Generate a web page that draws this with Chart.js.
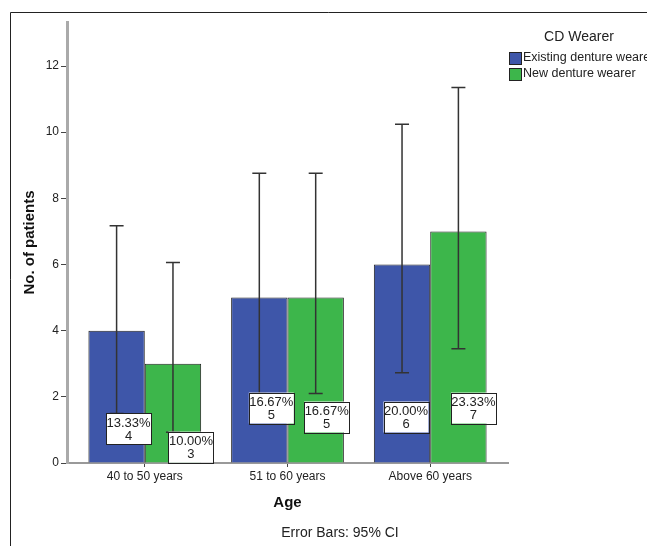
<!DOCTYPE html>
<html>
<head>
<meta charset="utf-8">
<script src="https://cdn.jsdelivr.net/npm/chart.js@4/dist/chart.umd.min.js"></script>
<style>
  html, body { margin: 0; padding: 0; background: #fff; }
  #wrap { width: 647px; height: 546px; position: relative; }
</style>
</head>
<body>
<div id="wrap"><canvas id="chart"></canvas></div>
<script>
// values
const ageGroups = ['40 to 50 years', '51 to 60 years', 'Above 60 years'];
const seriesNames = ['Existing denture wearer', 'New denture wearer'];
const existingCounts = [4, 5, 6];
const newCounts = [3, 5, 7];
const existingPercent = ['13.33%', '16.67%', '20.00%'];
const newPercent = ['10.00%', '16.67%', '23.33%'];
const existingCiLow = [1.5, 2.1, 2.73];
const existingCiHigh = [7.17, 8.76, 10.24];
const newCiLow = [0.93, 2.1, 3.45];
const newCiHigh = [6.06, 8.76, 11.35];
const yTicks = [0, 2, 4, 6, 8, 10, 12];

const FONT = '"Liberation Sans", Arial, sans-serif';
const colors = ['#3E56A9', '#3DB64B'];

// where SPSS dropped each value label (x shift from bar centre, y in axis units)
const labelSpots = [
  [{ dx: 12, y: 1.03 }, { dx: 12, y: 1.66 }, { dx: 4, y: 1.39 }],
  [{ dx: 18, y: 0.48 }, { dx: 11, y: 1.39 }, { dx: 15, y: 1.66 }]
];

const ciLow = [existingCiLow, newCiLow];
const ciHigh = [existingCiHigh, newCiHigh];
const percents = [existingPercent, newPercent];

const errorBars = {
  id: 'errorBars',
  afterDatasetsDraw(chart) {
    const ctx = chart.ctx;
    const y = chart.scales.y;
    ctx.save();
    ctx.strokeStyle = '#333';
    ctx.lineWidth = 1.5;
    chart.data.datasets.forEach((ds, di) => {
      chart.getDatasetMeta(di).data.forEach((bar, i) => {
        const x = bar.x;
        const top = y.getPixelForValue(ciHigh[di][i]);
        const bot = y.getPixelForValue(ciLow[di][i]);
        ctx.beginPath();
        ctx.moveTo(x, top); ctx.lineTo(x, bot);
        ctx.moveTo(x - 7, top); ctx.lineTo(x + 7, top);
        ctx.moveTo(x - 7, bot); ctx.lineTo(x + 7, bot);
        ctx.stroke();
      });
    });
    ctx.restore();
  }
};

const valueLabels = {
  id: 'valueLabels',
  afterDatasetsDraw(chart) {
    const ctx = chart.ctx;
    const y = chart.scales.y;
    ctx.save();
    ctx.font = '13px ' + FONT;
    ctx.textAlign = 'center';
    ctx.textBaseline = 'middle';
    chart.data.datasets.forEach((ds, di) => {
      chart.getDatasetMeta(di).data.forEach((bar, i) => {
        const spot = labelSpots[di][i];
        const cx = bar.x + spot.dx;
        const cy = y.getPixelForValue(spot.y);
        const w = 45, h = 31;
        ctx.fillStyle = '#fff';
        ctx.fillRect(cx - w / 2, cy - h / 2, w, h);
        ctx.strokeStyle = '#222';
        ctx.lineWidth = 1;
        ctx.strokeRect(Math.round(cx - w / 2) + 0.5, Math.round(cy - h / 2) + 0.5, w, h);
        ctx.fillStyle = '#222';
        ctx.fillText(percents[di][i], cx, cy - 6);
        ctx.fillText(String(ds.data[i]), cx, cy + 7);
      });
    });
    ctx.restore();
  }
};

const decorations = {
  id: 'decorations',
  afterDraw(chart) {
    const ctx = chart.ctx;
    ctx.save();
    // outer frame
    ctx.strokeStyle = '#222';
    ctx.lineWidth = 1;
    ctx.beginPath();
    ctx.moveTo(10.5, 546); ctx.lineTo(10.5, 12.5); ctx.lineTo(647, 12.5);
    ctx.stroke();
    // legend
    ctx.fillStyle = '#222';
    ctx.font = '14px ' + FONT;
    ctx.textAlign = 'center';
    ctx.textBaseline = 'middle';
    ctx.fillText('CD Wearer', 579, 37);
    ctx.font = '12.5px ' + FONT;
    ctx.textAlign = 'left';
    chart.data.datasets.forEach((ds, di) => {
      const cy = 58 + di * 16;
      ctx.fillStyle = ds.backgroundColor;
      ctx.fillRect(509, cy - 6, 12, 12);
      ctx.strokeStyle = '#222';
      ctx.strokeRect(509.5, cy - 5.5, 12, 12);
      ctx.fillStyle = '#222';
      ctx.fillText(ds.label, 523, cy);
    });
    // footnote
    ctx.font = '14px ' + FONT;
    ctx.textAlign = 'center';
    ctx.fillText('Error Bars: 95% CI', 340, 533);
    ctx.restore();
  }
};

new Chart(document.getElementById('chart'), {
  type: 'bar',
  data: {
    labels: ageGroups,
    datasets: [
      { label: seriesNames[0], data: existingCounts, backgroundColor: colors[0] },
      { label: seriesNames[1], data: newCounts, backgroundColor: colors[1] }
    ]
  },
  options: {
    responsive: true,
    maintainAspectRatio: false,
    animation: false,
    devicePixelRatio: 1,
    layout: { padding: { left: 12, right: 139, top: 22, bottom: 30 } },
    datasets: {
      bar: {
        borderColor: '#222',
        borderWidth: 1,
        categoryPercentage: 0.79,
        barPercentage: 1
      }
    },
    plugins: {
      legend: { display: false },
      tooltip: { enabled: false }
    },
    scales: {
      x: {
        afterFit(scale) { scale.height = 53; },
        // SPSS leaves a little extra room at both ends of the category axis
        afterBuildTicks(scale) { scale._startValue = -0.545; scale._valueRange = 3.09; },
        border: { color: '#999', width: 2 },
        grid: { drawOnChartArea: false, drawTicks: true, tickLength: 4, offset: false, color: '#444' },
        ticks: { color: '#222', font: { family: FONT, size: 12 }, padding: 2, maxRotation: 0 },
        title: {
          display: true, text: 'Age', color: '#111',
          font: { family: FONT, size: 15, weight: 'bold' },
          padding: { top: 0, bottom: 4 }
        }
      },
      y: {
        min: 0,
        max: 13.33,
        afterFit(scale) { scale.width = 55; },
        afterBuildTicks(scale) { scale.ticks = yTicks.map(v => ({ value: v })); },
        border: { color: '#aaa', width: 3 },
        grid: { drawOnChartArea: false, drawTicks: true, tickLength: 6, color: '#444' },
        ticks: { color: '#222', font: { family: FONT, size: 12 }, padding: 2 },
        title: {
          display: true, text: 'No. of patients', color: '#111',
          font: { family: FONT, size: 15, weight: 'bold' },
          padding: { top: 9, bottom: 0 }
        }
      }
    }
  },
  plugins: [errorBars, valueLabels, decorations]
});
</script>
</body>
</html>
